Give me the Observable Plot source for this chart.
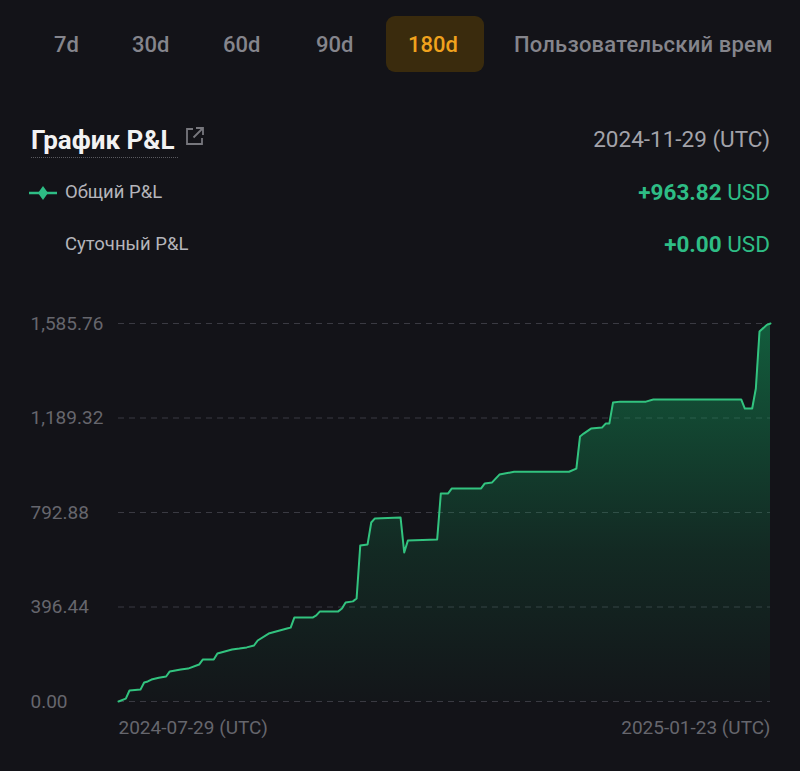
<!DOCTYPE html>
<html>
<head>
<meta charset="utf-8">
<script src="https://cdn.jsdelivr.net/npm/d3@7"></script>
<script src="https://cdn.jsdelivr.net/npm/@observablehq/plot@0.6"></script>
<style>
  html, body { margin: 0; padding: 0; background: #131318; width: 800px; height: 771px; overflow: hidden; font-family: Roboto, "Noto Sans", sans-serif; }
  .abs { position: absolute; line-height: 1; white-space: nowrap; }
  .tab { font-size: 22px; font-weight: 500; color: #85858c; }
  #tabActiveBox { position: absolute; left: 386px; top: 16px; width: 98px; height: 56px; border-radius: 9px; background: #3a2b0d; }
  #tabs { position: absolute; left: 0; top: 0; width: 800px; height: 90px; }
  #chart { position: absolute; left: 0; top: 290px; }
</style>
</head>
<body>
<div id="tabs">
  <div id="tabActiveBox"></div>
</div>
<div class="abs" style="left:31px; top:127px; font-size:26px; font-weight:700; color:#f2f2f2;">График P&amp;L</div>
<div class="abs" style="left:31px; top:157px; width:147px; border-top:1.5px dotted #5a5a60;"></div>
<svg class="abs" style="left:184px; top:126px;" width="21" height="21" viewBox="0 0 21 21">
  <path d="M9 3 H3 V18 H18 V12" fill="none" stroke="#77777d" stroke-width="1.8"/>
  <path d="M12 2 H19 V9 M19 2 L9.5 11.5" fill="none" stroke="#77777d" stroke-width="1.8"/>
</svg>
<div id="dateLabel" class="abs" style="right:30px; top:128px; font-size:22.5px; color:#a3a3aa;"></div>

<svg class="abs" style="left:29px; top:185px;" width="28" height="16" viewBox="0 0 28 16">
  <line x1="0" y1="8" x2="28" y2="8" stroke="#2ebd85" stroke-width="2.5"/>
  <path d="M14 1 L19 8 L14 15 L9 8 Z" fill="#2ebd85"/>
</svg>
<div id="leg1" class="abs" style="left:65px; top:183px; font-size:18.5px; color:#b5b5bb;"></div>
<div id="val1" class="abs" style="right:30px; top:181px; font-size:22.5px; color:#2ebd85;"></div>
<div id="leg2" class="abs" style="left:65px; top:235px; font-size:18.5px; color:#b5b5bb;"></div>
<div id="val2" class="abs" style="right:30px; top:233px; font-size:22.5px; color:#2ebd85;"></div>

<div id="chart"></div>

<script>
// ---- data ----
const tabLabels = ["7d", "30d", "60d", "90d", "180d", "Пользовательский врем"];
const tabLefts = [54, 132, 223, 316, 408, 514];
const activeTab = "180d";

const titleText = "График P&L";
const selectedDate = "2024-11-29";
const legendLabels = ["Общий P&L", "Суточный P&L"];
const legendValues = [963.82, 0.00];
const currency = "USD";

const dates = [
  "2024-07-29","2024-07-31","2024-08-01","2024-08-04","2024-08-05","2024-08-06","2024-08-07","2024-08-09",
  "2024-08-11","2024-08-12","2024-08-15","2024-08-17","2024-08-20","2024-08-21","2024-08-24","2024-08-25",
  "2024-08-29","2024-08-31","2024-09-02","2024-09-04","2024-09-05","2024-09-08","2024-09-10","2024-09-13",
  "2024-09-14","2024-09-15","2024-09-20","2024-09-21","2024-09-22","2024-09-27","2024-09-28","2024-09-29",
  "2024-10-01","2024-10-02","2024-10-03","2024-10-05","2024-10-06","2024-10-07","2024-10-14","2024-10-15",
  "2024-10-16","2024-10-24","2024-10-25","2024-10-27","2024-10-28","2024-11-05","2024-11-06","2024-11-08",
  "2024-11-10","2024-11-14","2024-11-29","2024-12-01","2024-12-02","2024-12-03","2024-12-05","2024-12-08",
  "2024-12-09","2024-12-10","2024-12-11","2024-12-13","2024-12-20","2024-12-22","2025-01-15","2025-01-16",
  "2025-01-18","2025-01-19","2025-01-20","2025-01-22","2025-01-23"
];
const pnl = [
  0, 12, 46, 50, 80, 84, 92, 100,
  105, 126, 134, 138, 155, 176, 176, 201,
  218, 222, 227, 235, 256, 285, 294, 306,
  310, 352, 352, 361, 378, 378, 390, 415,
  420, 432, 654, 659, 751, 768, 772, 625,
  675, 680, 873, 873, 894, 894, 915, 919,
  952, 963.82, 963.82, 977, 1112, 1124, 1145, 1149,
  1166, 1166, 1254, 1258, 1258, 1267, 1267, 1229,
  1229, 1313, 1552, 1580, 1585.76
];
const yTicks = [0, 396.44, 792.88, 1189.32, 1585.76];
const xTickLabels = ["2024-07-29", "2025-01-23"];

// ---- header ----
const tabsEl = document.getElementById("tabs");
tabLabels.forEach((t, i) => {
  const d = document.createElement("div");
  d.className = "abs tab";
  d.style.left = tabLefts[i] + "px";
  d.style.top = "34px";
  d.textContent = t;
  if (t === activeTab) d.style.color = "#f0a21d";
  if (i === tabLabels.length - 1) d.style.letterSpacing = "0.2px";
  tabsEl.appendChild(d);
});
document.getElementById("dateLabel").textContent = selectedDate + " (UTC)";
const fmt2 = d3.format(",.2f");
document.getElementById("leg1").textContent = legendLabels[0];
document.getElementById("leg2").textContent = legendLabels[1];
document.getElementById("val1").innerHTML = `<b>+${fmt2(legendValues[0])}</b> <span>${currency}</span>`;
document.getElementById("val2").innerHTML = `<b>+${fmt2(legendValues[1])}</b> <span>${currency}</span>`;

// ---- chart ----
const parse = d3.utcParse("%Y-%m-%d");
const data = dates.map((d, i) => ({date: parse(d), value: pnl[i]}));
const xTicks = xTickLabels.map(parse);
const dateFmt = d => d3.utcFormat("%Y-%m-%d")(d) + " (UTC)";

const plot = Plot.plot({
  width: 800,
  height: 460,
  marginTop: 33,
  marginBottom: 49,
  marginLeft: 118,
  marginRight: 30,
  style: {background: "transparent", fontFamily: "Roboto, sans-serif", fontSize: "19px", color: "#66666d", overflow: "visible"},
  x: {type: "utc", domain: xTicks},
  y: {domain: [0, yTicks[yTicks.length - 1]]},
  marks: [
    Plot.ruleY(yTicks, {stroke: "#3a3a42", strokeWidth: 1, strokeDasharray: "6,5"}),
    Plot.areaY(data, {x: "date", y: "value", fill: "url(#pnlGrad)"}),
    Plot.lineY(data, {x: "date", y: "value", stroke: "#32c37f", strokeWidth: 2, strokeLinejoin: "round"}),
    Plot.axisY(yTicks, {tickSize: 0, tickPadding: 0, textAnchor: "start", dx: -88, tickFormat: fmt2, label: null}),
    Plot.axisX([xTicks[0]], {tickSize: 0, tickPadding: 19, textAnchor: "start", tickFormat: dateFmt, label: null}),
    Plot.axisX([xTicks[1]], {tickSize: 0, tickPadding: 19, textAnchor: "end", tickFormat: dateFmt, label: null})
  ]
});
const defs = d3.select(plot).insert("defs", ":first-child");
const g = defs.append("linearGradient").attr("id", "pnlGrad").attr("x1", 0).attr("y1", 0).attr("x2", 0).attr("y2", 1);
g.append("stop").attr("offset", "0%").attr("stop-color", "#12985a").attr("stop-opacity", 0.55);
g.append("stop").attr("offset", "60%").attr("stop-color", "#12985a").attr("stop-opacity", 0.17);
g.append("stop").attr("offset", "100%").attr("stop-color", "#12985a").attr("stop-opacity", 0.02);
document.getElementById("chart").appendChild(plot);
</script>
</body>
</html>
